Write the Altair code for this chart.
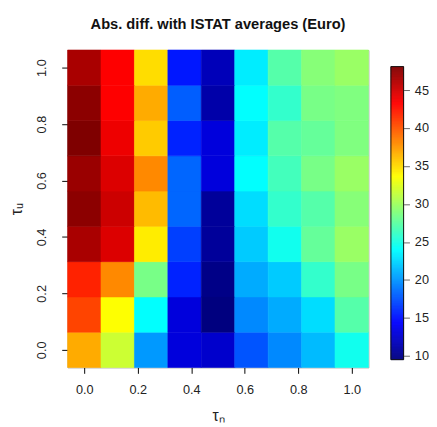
import altair as alt
import pandas as pd

# grid values
tau_n = [0.0, 0.125, 0.25, 0.375, 0.5, 0.625, 0.75, 0.875, 1.0]
tau_u = [0.0, 0.125, 0.25, 0.375, 0.5, 0.625, 0.75, 0.875, 1.0]

# absolute differences (Euro), one list per tau_u row, across tau_n
row_u_000 = [36.8, 31.7, 20.1, 13.0, 12.4, 17.5, 19.5, 21.4, 24.6]
row_u_125 = [40.7, 33.6, 24.0, 13.0, 9.5, 19.5, 20.8, 22.7, 27.2]
row_u_250 = [42.0, 38.1, 28.5, 15.6, 9.8, 20.8, 22.0, 25.9, 28.5]
row_u_375 = [46.5, 44.6, 34.3, 16.7, 10.5, 22.0, 24.6, 27.8, 29.8]
row_u_500 = [47.6, 45.2, 36.2, 18.2, 10.5, 22.7, 25.9, 27.2, 29.1]
row_u_625 = [47.1, 44.6, 38.1, 18.2, 13.0, 24.0, 26.5, 28.5, 29.8]
row_u_750 = [48.1, 43.9, 35.6, 15.6, 13.0, 23.3, 27.2, 27.8, 28.8]
row_u_875 = [47.6, 43.3, 36.8, 17.9, 11.1, 24.0, 25.9, 28.5, 28.8]
row_u_1000 = [46.5, 43.3, 34.9, 15.2, 11.7, 23.3, 27.2, 29.1, 29.8]

rows = [row_u_000, row_u_125, row_u_250, row_u_375, row_u_500,
        row_u_625, row_u_750, row_u_875, row_u_1000]

records = []
for u, row in zip(tau_u, rows):
    for n, v in zip(tau_n, row):
        records.append({"tau_n": n, "tau_u": u, "value": v})
df = pd.DataFrame(records)

vmin, vmax = 9.5, 48.1
half = 0.0625
FONT = "Liberation Sans"

# jet colormap anchors
jet_t = [0.0, 0.125, 0.375, 0.625, 0.875, 1.0]
jet_colors = ["#00007F", "#0000FF", "#00FFFF", "#FFFF00", "#FF0000", "#7F0000"]
jet_domain = [vmin + t * (vmax - vmin) for t in jet_t]
color_scale = alt.Scale(domain=jet_domain, range=jet_colors, interpolate="rgb")

ticks01 = [0.0, 0.2, 0.4, 0.6, 0.8, 1.0]

main = alt.Chart(df).transform_calculate(
    x0=f"datum.tau_n - {half}", x1=f"datum.tau_n + {half}",
    y0=f"datum.tau_u - {half}", y1=f"datum.tau_u + {half}",
).mark_rect(strokeWidth=0.6).encode(
    x=alt.X("x0:Q", scale=alt.Scale(domain=[-half, 1 + half], nice=False, zero=False),
            axis=alt.Axis(values=ticks01, format=".1f", title="τₙ", grid=False,
                          domain=False, tickSize=6, tickColor="black",
                          labelFontSize=13, labelFont=FONT, labelColor="#222222",
                          labelPadding=11, titleFont=FONT, titleFontSize=16,
                          titleFontWeight="normal", titlePadding=11, titleColor="#222222")),
    x2="x1:Q",
    y=alt.Y("y0:Q", scale=alt.Scale(domain=[-half, 1 + half], nice=False, zero=False),
            axis=alt.Axis(values=ticks01, format=".1f", title="τᵤ", grid=False,
                          domain=False, tickSize=6, tickColor="black",
                          labelFontSize=13, labelFont=FONT, labelColor="#222222",
                          labelAngle=270, labelPadding=14, titleFont=FONT,
                          titleFontSize=16, titleFontWeight="normal",
                          titlePadding=11, titleColor="#222222")),
    y2="y1:Q",
    color=alt.Color("value:Q", scale=color_scale, legend=None),
    stroke=alt.Color("value:Q", scale=color_scale, legend=None),
).properties(
    width=308, height=325,
    title=alt.TitleParams("Abs. diff. with ISTAT averages (Euro)", fontSize=15,
                          fontWeight="bold", font=FONT, color="#111111", offset=18),
    view=alt.ViewBackground(stroke="#aaaaaa", strokeWidth=1),
)

# colour bar
bar_ticks = [10, 15, 20, 25, 30, 35, 40, 45]
px_per_unit = 300 / (vmax - vmin)
bar_dom = [vmin - 8 / px_per_unit, vmax + 17 / px_per_unit]

bar_scale = alt.Scale(domain=bar_dom, nice=False, zero=False)
bar_rects = alt.Chart(alt.sequence(vmin, vmax, 0.1, as_="v")).transform_calculate(
    v2="datum.v + 0.1"
).mark_rect(strokeWidth=0.5).encode(
    y=alt.Y("v:Q", scale=bar_scale,
            axis=alt.Axis(orient="right", values=bar_ticks, grid=False, domain=False,
                          tickSize=6, tickColor="#666666", labelFontSize=13,
                          labelFont=FONT, labelColor="#222222", labelPadding=5,
                          title=None)),
    y2="v2:Q",
    x=alt.value(0), x2=alt.value(13),
    color=alt.Color("v:Q", scale=color_scale, legend=None),
    stroke=alt.Color("v:Q", scale=color_scale, legend=None),
)
bar_border = alt.Chart(pd.DataFrame({"lo": [vmin], "hi": [vmax]})).mark_rect(
    fill="transparent", stroke="#111111", strokeWidth=1
).encode(
    y=alt.Y("lo:Q", scale=bar_scale), y2="hi:Q",
    x=alt.value(0), x2=alt.value(13),
)
bar = alt.layer(bar_rects, bar_border).properties(
    width=13, height=325, view=alt.ViewBackground(stroke="transparent"))

chart = alt.hconcat(main, bar, spacing=21).properties(
    padding={"left": 0, "top": 4, "right": 0, "bottom": 0}
).configure(background="white")

chart.save("out.html", embed_options={"renderer": "svg", "actions": False})
